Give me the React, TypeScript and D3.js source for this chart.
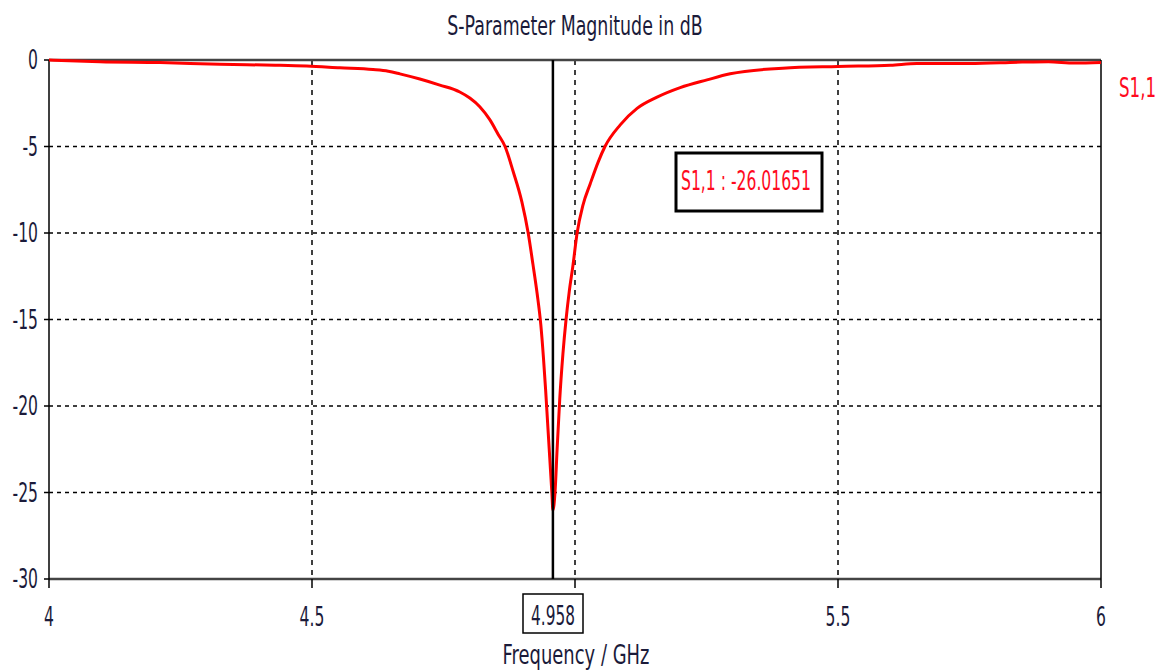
import React from 'react';
import * as d3 from 'd3';

// S1,1 magnitude (dB)
const freqs = [
  4.0, 4.097, 4.211, 4.325, 4.43, 4.49, 4.553, 4.616, 4.645, 4.667, 4.705, 4.743,
  4.781, 4.8, 4.819, 4.838, 4.854, 4.867, 4.882, 4.899, 4.911, 4.92, 4.928, 4.935,
  4.94, 4.944, 4.948, 4.952, 4.956, 4.958, 4.962, 4.966, 4.971, 4.977, 4.983, 4.989,
  4.996, 5.004, 5.015, 5.029, 5.044, 5.057, 5.086, 5.118, 5.156, 5.2, 5.251, 5.295,
  5.395, 5.5, 5.6, 5.65, 5.75, 5.85, 5.9, 5.95, 6.0,
];
const s11 = [
  0.0, -0.1, -0.15, -0.25, -0.3, -0.35, -0.45, -0.55, -0.65, -0.8, -1.1, -1.45,
  -1.85, -2.2, -2.7, -3.45, -4.3, -5.0, -6.4, -8.2, -10.0, -11.8, -13.5, -15.3,
  -17.2, -19.0, -21.0, -23.0, -25.0, -26.0165, -25.0, -22.5, -19.6, -17.0, -15.0, -13.4,
  -11.9, -10.0, -8.4, -7.15, -5.9, -5.0, -3.75, -2.8, -2.15, -1.6, -1.15, -0.8,
  -0.47, -0.37, -0.3, -0.2, -0.2, -0.12, -0.1, -0.18, -0.15,
];
const xTicks = [4, 4.5, 5, 5.5, 6];
const xTickLabels = ['4', '4.5', '', '5.5', '6'];
const yTicks = [0, -5, -10, -15, -20, -25, -30];
const markerFreq = 4.958;
const markerLabel = 'S1,1 : -26.01651';

const W = 1158;
const H = 670;
const left = 49;
const right = 1101;
const top = 60;
const bottom = 579;
const textColor = '#1b1b3a';
const red = '#ff0a1e';

// narrow, tall text like the original Tahoma look
const Txt: React.FC<{
  x: number;
  y: number;
  sx?: number;
  anchor?: 'start' | 'middle' | 'end';
  fill?: string;
  size?: number;
  children: React.ReactNode;
}> = ({ x, y, sx = 0.6, anchor = 'start', fill = textColor, size = 26, children }) => (
  <text
    transform={`translate(${x},${y}) scale(${sx},1)`}
    textAnchor={anchor}
    fontSize={size}
    fill={fill}
  >
    {children}
  </text>
);

const App: React.FC = () => {
  const x = d3.scaleLinear().domain([4, 6]).range([left, right]);
  const y = d3.scaleLinear().domain([-30, 0]).range([bottom, top]);

  const pts = freqs.map((f, i) => [f, s11[i]] as [number, number]);
  const line = d3
    .line<[number, number]>()
    .x((d) => x(d[0]))
    .y((d) => y(d[1]))
    .curve(d3.curveMonotoneX);

  const mx = x(markerFreq);

  return (
    <svg
      width={W}
      height={H}
      style={{ position: 'absolute', left: 0, top: 0, background: '#fff' }}
      fontFamily='"DejaVu Sans", sans-serif'
    >
      <Txt x={575} y={35} sx={0.67} anchor="middle">
        S-Parameter Magnitude in dB
      </Txt>

      {/* grid */}
      {yTicks
        .filter((t) => t !== 0 && t !== -30)
        .map((t) => (
          <line key={'gy' + t} x1={left} x2={right} y1={y(t)} y2={y(t)}
            stroke="#000" strokeWidth={1.5} strokeDasharray="4,4" />
        ))}
      {xTicks
        .filter((t) => t !== 4 && t !== 6)
        .map((t) => (
          <line key={'gx' + t} x1={x(t)} x2={x(t)} y1={top} y2={bottom}
            stroke="#000" strokeWidth={1.5} strokeDasharray="5,5" />
        ))}

      {/* frame */}
      <line x1={left} x2={right} y1={top} y2={top} stroke="#444" strokeWidth={2.5} />
      <line x1={left} x2={right} y1={bottom} y2={bottom} stroke="#444" strokeWidth={2.5} />
      <line x1={left} x2={left} y1={top} y2={bottom} stroke="#000" strokeWidth={1.5} />
      <line x1={right} x2={right} y1={top} y2={bottom} stroke="#000" strokeWidth={1.5} />

      {/* y ticks */}
      {yTicks.map((t) => (
        <g key={'ty' + t}>
          <line x1={left - 5} x2={left} y1={y(t)} y2={y(t)} stroke="#000" strokeWidth={1.5} />
          <Txt x={38} y={y(t) + 9} anchor="end">
            {t}
          </Txt>
        </g>
      ))}

      {/* x ticks */}
      {xTicks.map((t, i) => (
        <g key={'tx' + t}>
          <line x1={x(t)} x2={x(t)} y1={bottom} y2={bottom + 9} stroke="#000" strokeWidth={1.5} />
          <Txt x={x(t)} y={626} anchor="middle">
            {xTickLabels[i]}
          </Txt>
        </g>
      ))}

      <Txt x={576} y={664} sx={0.69} anchor="middle">
        Frequency / GHz
      </Txt>

      {/* curve */}
      <path d={line(pts) || ''} fill="none" stroke="#ff0000" strokeWidth={3} />

      {/* marker */}
      <line x1={mx} x2={mx} y1={top} y2={bottom} stroke="#000" strokeWidth={2.5} />
      <rect x={523} y={594} width={60} height={39} fill="#fff" stroke="#000" strokeWidth={1.5} />
      <Txt x={553} y={625} sx={0.59} anchor="middle">
        {markerFreq}
      </Txt>

      <rect x={676} y={153} width={146} height={58} fill="#fff" stroke="#000" strokeWidth={3} />
      <Txt x={746} y={190} anchor="middle" fill={red}>
        {markerLabel}
      </Txt>

      <Txt x={1119} y={97} sx={0.64} fill={red}>
        S1,1
      </Txt>
    </svg>
  );
};

export default App;
